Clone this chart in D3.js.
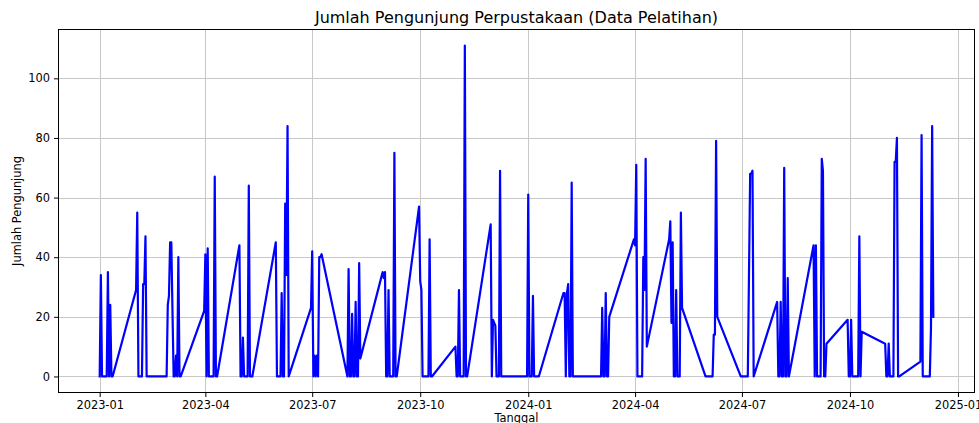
<!DOCTYPE html>
<html>
<head>
<meta charset="utf-8">
<script src="https://cdn.jsdelivr.net/npm/d3@7"></script>
<style>
  body { margin: 0; background: #fff; }
  svg { font-family: "DejaVu Sans", sans-serif; }
</style>
</head>
<body>
<div id="chart"></div>
<script>
// Data (tanggal = date, jumlah = visitor count)
const tanggal = [
  "2023-01-01","2023-01-02","2023-01-03","2023-01-07","2023-01-08","2023-01-09","2023-01-10","2023-01-11","2023-01-12",
  "2023-02-01","2023-02-02","2023-02-03","2023-02-06","2023-02-07","2023-02-08","2023-02-09","2023-02-10","2023-02-26","2023-02-27","2023-02-28",
  "2023-03-01","2023-03-02","2023-03-03","2023-03-04","2023-03-05","2023-03-06","2023-03-07","2023-03-08","2023-03-09","2023-03-10","2023-03-11","2023-03-31",
  "2023-04-01","2023-04-02","2023-04-03","2023-04-04","2023-04-08","2023-04-09","2023-04-10","2023-04-11","2023-04-30",
  "2023-05-01","2023-05-02","2023-05-03","2023-05-04","2023-05-07","2023-05-08","2023-05-09","2023-05-11","2023-05-31",
  "2023-06-01","2023-06-04","2023-06-05","2023-06-06","2023-06-07","2023-06-08","2023-06-09","2023-06-10","2023-06-11","2023-06-30",
  "2023-07-01","2023-07-02","2023-07-03","2023-07-04","2023-07-05","2023-07-06","2023-07-07","2023-07-08","2023-07-09","2023-07-31",
  "2023-08-01","2023-08-02","2023-08-03","2023-08-04","2023-08-05","2023-08-06","2023-08-07","2023-08-08","2023-08-09","2023-08-10","2023-08-11","2023-08-30","2023-08-31",
  "2023-09-01","2023-09-02","2023-09-03","2023-09-04","2023-09-05","2023-09-08","2023-09-09","2023-09-10","2023-09-11","2023-09-30",
  "2023-10-01","2023-10-02","2023-10-03","2023-10-08","2023-10-09","2023-10-10","2023-10-11","2023-10-31",
  "2023-11-01","2023-11-02","2023-11-03","2023-11-04","2023-11-07","2023-11-08","2023-11-09","2023-11-10","2023-11-30",
  "2023-12-01","2023-12-02","2023-12-03","2023-12-04","2023-12-05","2023-12-07","2023-12-08","2023-12-09","2023-12-31",
  "2024-01-01","2024-01-02","2024-01-04","2024-01-05","2024-01-06","2024-01-10","2024-01-31",
  "2024-02-01","2024-02-02","2024-02-03","2024-02-04","2024-02-05","2024-02-06","2024-02-07","2024-02-08",
  "2024-03-03","2024-03-04","2024-03-05","2024-03-06","2024-03-07","2024-03-08","2024-03-09","2024-03-10","2024-03-31",
  "2024-04-01","2024-04-02","2024-04-03","2024-04-07","2024-04-08","2024-04-09","2024-04-10","2024-04-11","2024-04-30",
  "2024-05-01","2024-05-02","2024-05-03","2024-05-04","2024-05-05","2024-05-06","2024-05-07","2024-05-09","2024-05-10","2024-05-11","2024-05-31",
  "2024-06-06","2024-06-07","2024-06-08","2024-06-09","2024-06-10","2024-06-30",
  "2024-07-06","2024-07-07","2024-07-08","2024-07-09","2024-07-10","2024-07-11","2024-07-31",
  "2024-08-01","2024-08-02","2024-08-03","2024-08-04","2024-08-05","2024-08-06","2024-08-07","2024-08-08","2024-08-09","2024-08-10","2024-08-31",
  "2024-09-01","2024-09-02","2024-09-03","2024-09-06","2024-09-07","2024-09-08","2024-09-09","2024-09-10","2024-09-11","2024-09-29","2024-09-30",
  "2024-10-01","2024-10-02","2024-10-03","2024-10-08","2024-10-09","2024-10-10","2024-10-11","2024-10-31",
  "2024-11-01","2024-11-02","2024-11-03","2024-11-04","2024-11-07","2024-11-08","2024-11-09","2024-11-10","2024-11-11","2024-11-12","2024-11-30",
  "2024-12-01","2024-12-02","2024-12-08","2024-12-09","2024-12-10","2024-12-11"
];
const jumlah = [
  0,34,0,0,35,0,24,0,0,
  29,55,0,0,31,31,47,0,0,0,24,
  27,45,45,22,0,0,7,0,40,0,0,22,
  41,0,43,0,0,67,0,0,44,
  0,0,13,0,0,64,0,0,45,
  0,0,28,0,0,58,34,84,0,23,
  42,0,7,0,7,0,40,40,41,0,
  36,0,0,21,0,0,25,0,0,38,6,35,33,
  35,0,0,29,0,0,75,0,0,57,
  32,29,0,0,46,0,0,10,
  0,0,29,0,0,111,0,0,51,
  0,19,18,17,0,0,69,0,0,
  61,0,0,27,0,0,28,
  28,0,28,31,0,0,65,0,
  0,23,0,0,28,0,0,20,46,
  44,71,0,0,40,29,73,10,46,
  52,18,45,0,0,29,0,0,55,23,0,
  0,14,14,79,20,0,
  0,34,68,68,69,0,25,
  0,0,25,0,0,70,0,0,33,0,44,
  0,44,0,0,73,69,0,0,11,19,0,
  0,19,0,0,47,0,15,11,
  0,0,11,0,0,72,72,80,0,0,5,
  81,0,0,16,84,20
];
const xTickLabels = ["2023-01","2023-04","2023-07","2023-10","2024-01","2024-04","2024-07","2024-10","2025-01"];
const yTicks = [0, 20, 40, 60, 80, 100];

const width = 979;
const height = 423;
const margin = { top: 29, right: 4, bottom: 30, left: 58 };

const parseDate = d3.timeParse("%Y-%m-%d");
const data = tanggal.map((t, i) => ({ date: parseDate(t), value: jumlah[i] }));

// matplotlib-style 5% padding on both axes
const [d0, d1] = d3.extent(data, d => d.date);
const padX = (d1 - d0) * 0.05;
const [v0, v1] = d3.extent(data, d => d.value);
const padY = (v1 - v0) * 0.05;

const x = d3.scaleTime()
  .domain([new Date(+d0 - padX), new Date(+d1 + padX)])
  .range([margin.left, width - margin.right]);

const y = d3.scaleLinear()
  .domain([v0 - padY, v1 + padY])
  .range([height - margin.bottom, margin.top]);

const svg = d3.select("#chart")
  .append("svg")
  .attr("width", width)
  .attr("height", height);

const xTicks = xTickLabels.map(s => parseDate(s + "-01"));

// Grid
svg.append("g")
  .selectAll("line")
  .data(xTicks)
  .join("line")
  .attr("x1", d => Math.round(x(d)) + 0.5)
  .attr("x2", d => Math.round(x(d)) + 0.5)
  .attr("y1", margin.top)
  .attr("y2", height - margin.bottom)
  .attr("stroke", "#c8c8c8")
  .attr("stroke-width", 1);

svg.append("g")
  .selectAll("line")
  .data(yTicks)
  .join("line")
  .attr("x1", margin.left)
  .attr("x2", width - margin.right)
  .attr("y1", d => Math.round(y(d)) + 0.5)
  .attr("y2", d => Math.round(y(d)) + 0.5)
  .attr("stroke", "#c8c8c8")
  .attr("stroke-width", 1);

// Line
const line = d3.line()
  .x(d => x(d.date))
  .y(d => y(d.value));

svg.append("path")
  .datum(data)
  .attr("fill", "none")
  .attr("stroke", "#0000ff")
  .attr("stroke-width", 2.2)
  .attr("stroke-linejoin", "round")
  .attr("stroke-linecap", "square")
  .attr("d", line);

// Axes
const xAxis = d3.axisBottom(x)
  .tickValues(xTicks)
  .tickFormat(d3.timeFormat("%Y-%m"))
  .tickSizeOuter(0)
  .tickSize(4)
  .tickPadding(4);

const yAxis = d3.axisLeft(y)
  .tickValues(yTicks)
  .tickSizeOuter(0)
  .tickSize(4)
  .tickPadding(4);

svg.append("g")
  .attr("transform", `translate(0, ${height - margin.bottom})`)
  .call(xAxis)
  .call(g => g.select(".domain").remove())
  .call(g => g.selectAll("text").attr("font-size", 11.4).attr("font-family", "DejaVu Sans").attr("fill", "#000"));

svg.append("g")
  .attr("transform", `translate(${margin.left}, 0)`)
  .call(yAxis)
  .call(g => g.select(".domain").remove())
  .call(g => g.selectAll("text").attr("font-size", 11.4).attr("font-family", "DejaVu Sans").attr("fill", "#000"));

// Frame
svg.append("rect")
  .attr("x", margin.left + 0.5)
  .attr("y", margin.top + 0.5)
  .attr("width", width - margin.left - margin.right - 1)
  .attr("height", height - margin.top - margin.bottom - 1)
  .attr("fill", "none")
  .attr("stroke", "#000")
  .attr("stroke-width", 1);

// Titles
svg.append("text")
  .attr("x", (margin.left + width - margin.right) / 2)
  .attr("y", 23)
  .attr("text-anchor", "middle")
  .attr("font-size", 16)
  .text("Jumlah Pengunjung Perpustakaan (Data Pelatihan)");

svg.append("text")
  .attr("x", (margin.left + width - margin.right) / 2)
  .attr("y", 422)
  .attr("text-anchor", "middle")
  .attr("font-size", 11.4)
  .text("Tanggal");

svg.append("text")
  .attr("transform", `translate(21, ${(margin.top + height - margin.bottom) / 2}) rotate(-90)`)
  .attr("text-anchor", "middle")
  .attr("font-size", 11.4)
  .text("Jumlah Pengunjung");
</script>
</body>
</html>
